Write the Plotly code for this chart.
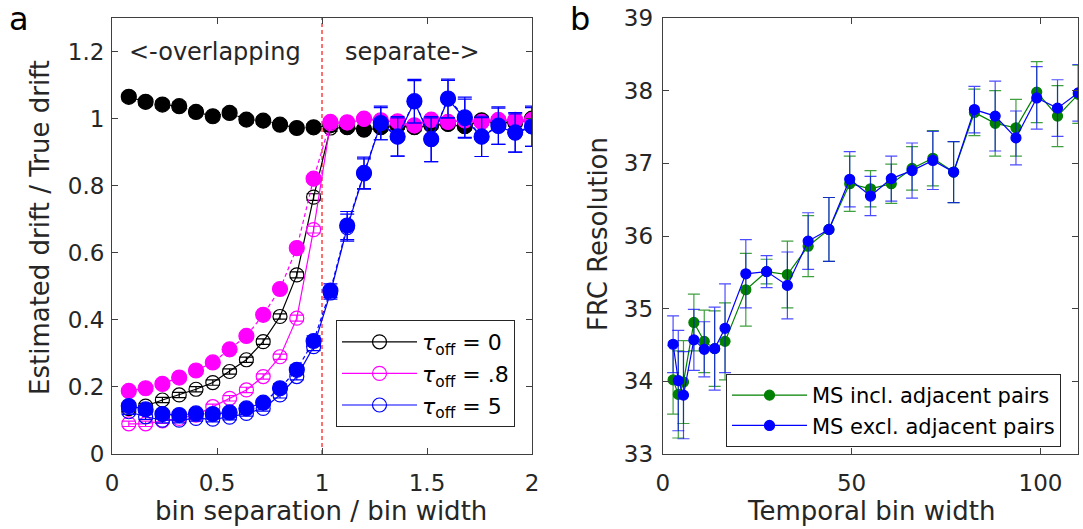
import plotly.graph_objects as go

# ---------------- panel a data ----------------
sep = [0.08, 0.16, 0.24, 0.32, 0.40, 0.48, 0.56, 0.64, 0.72, 0.80, 0.88, 0.96, 1.04,
       1.12, 1.20, 1.28, 1.36, 1.44, 1.52, 1.60, 1.68, 1.76, 1.84, 1.92, 2.00]

black_filled = [1.065, 1.050, 1.042, 1.037, 1.020, 1.007, 1.017, 0.997, 0.994, 0.982, 0.972, 0.974, 0.980,
                0.975, 0.968, 0.975, 0.980, 0.975, 0.982, 0.985, 0.978, 0.995, 0.990, 0.990, 1.000]
black_filled_err = [0.012, 0.011, 0.011, 0.012, 0.012, 0.011, 0.012, 0.011, 0.011, 0.011, 0.011, 0.011, 0.011,
                    0.011, 0.011, 0.012, 0.012, 0.012, 0.012, 0.012, 0.012, 0.012, 0.012, 0.012, 0.012]
black_open = [0.135, 0.143, 0.161, 0.176, 0.193, 0.213, 0.246, 0.281, 0.335, 0.410, 0.534, 0.766, 0.972,
              0.973, 0.966, 0.973, 0.978, 0.973, 0.980, 0.983, 0.976, 0.993, 0.988, 0.988, 0.998]
black_open_err = [0.008, 0.008, 0.008, 0.008, 0.008, 0.008, 0.008, 0.008, 0.008, 0.008, 0.009, 0.010, 0.010,
                  0.010, 0.010, 0.010, 0.010, 0.010, 0.010, 0.010, 0.010, 0.010, 0.010, 0.010, 0.010]

magenta_filled = [0.188, 0.196, 0.209, 0.228, 0.249, 0.273, 0.312, 0.352, 0.415, 0.492, 0.614, 0.821, 0.990,
                  0.989, 1.000, 0.995, 0.992, 0.980, 0.997, 0.990, 0.995, 0.990, 0.996, 0.996, 0.996]
magenta_filled_err = [0.008, 0.008, 0.008, 0.008, 0.008, 0.008, 0.008, 0.008, 0.008, 0.008, 0.009, 0.010, 0.010,
                      0.010, 0.010, 0.010, 0.010, 0.010, 0.010, 0.010, 0.010, 0.010, 0.010, 0.010, 0.010]
magenta_open = [0.090, 0.090, 0.099, 0.106, 0.116, 0.141, 0.166, 0.191, 0.231, 0.290, 0.405, 0.669, 0.985,
                0.987, 0.998, 0.993, 0.990, 0.978, 0.995, 0.990, 0.993, 0.990, 0.995, 0.995, 0.995]
magenta_open_err = [0.008, 0.008, 0.008, 0.008, 0.008, 0.008, 0.008, 0.008, 0.008, 0.008, 0.009, 0.010, 0.010,
                    0.010, 0.010, 0.010, 0.010, 0.010, 0.010, 0.010, 0.010, 0.010, 0.010, 0.010, 0.010]

blue_filled = [0.143, 0.133, 0.119, 0.116, 0.121, 0.119, 0.124, 0.136, 0.153, 0.196, 0.251, 0.337, 0.487,
               0.681, 0.838, 0.987, 0.947, 1.052, 0.939, 1.060, 1.004, 0.947, 0.979, 0.959, 0.977]
blue_filled_err = [0.010, 0.010, 0.010, 0.010, 0.010, 0.010, 0.010, 0.010, 0.011, 0.013, 0.014, 0.015, 0.020,
                   0.042, 0.047, 0.050, 0.059, 0.065, 0.067, 0.058, 0.060, 0.060, 0.056, 0.059, 0.060]
blue_open = [0.126, 0.111, 0.101, 0.101, 0.106, 0.104, 0.110, 0.121, 0.136, 0.176, 0.231, 0.320, 0.480,
             0.675, 0.835, 0.985, 0.945, 1.050, 0.937, 1.058, 1.000, 0.945, 0.977, 0.957, 0.975]
blue_open_err = [0.008, 0.008, 0.008, 0.008, 0.008, 0.008, 0.008, 0.008, 0.008, 0.009, 0.010, 0.012, 0.018,
                 0.040, 0.045, 0.048, 0.057, 0.063, 0.065, 0.056, 0.058, 0.058, 0.054, 0.057, 0.058]

boundary = 1.0
a_yticks = [0, 0.2, 0.4, 0.6, 0.8, 1.0, 1.2]
a_yticktext = ["0", "0.2", "0.4", "0.6", "0.8", "1", "1.2"]
a_xticks = [0, 0.5, 1, 1.5, 2]
a_xticktext = ["0", "0.5", "1", "1.5", "2"]

# ---------------- panel b data ----------------
bin_width = [2.75, 4.125, 5.5, 8.25, 11, 13.75, 16.5, 22, 27.5, 33, 38.5, 44, 49.5, 55,
             60.5, 66, 71.5, 77, 82.5, 88, 93.5, 99, 104.5, 110]
frc_incl = [34.02, 33.82, 33.99, 34.81, 34.55, 34.45, 34.55, 35.26, 35.51, 35.47, 35.86, 36.09, 36.72, 36.65,
            36.72, 36.93, 37.07, 36.88, 37.70, 37.55, 37.49, 37.98, 37.65, 37.95]
frc_incl_err = [0.47, 0.60, 0.57, 0.39, 0.43, 0.52, 0.53, 0.50, 0.17, 0.46, 0.42, 0.44, 0.38, 0.25,
                0.27, 0.30, 0.38, 0.42, 0.32, 0.45, 0.39, 0.42, 0.42, 0.40]
frc_excl = [34.51, 34.01, 33.81, 34.57, 34.44, 34.45, 34.73, 35.48, 35.51, 35.32, 35.93, 36.09, 36.78, 36.55,
            36.79, 36.90, 37.04, 36.88, 37.74, 37.65, 37.35, 37.90, 37.76, 37.97]
frc_excl_err = [0.39, 0.69, 0.60, 0.42, 0.38, 0.57, 0.61, 0.47, 0.22, 0.46, 0.39, 0.44, 0.38, 0.27,
                0.31, 0.38, 0.40, 0.42, 0.32, 0.48, 0.37, 0.43, 0.39, 0.39]
b_yticks = [33, 34, 35, 36, 37, 38, 39]
b_xticks = [0, 50, 100]

FONT = "DejaVu Sans"
TXT = "#262626"
AX = "#404040"

fig = go.Figure()


def series(x, y, err, color, filled, name, showlegend, xa, ya, legend, size, cap, ecolor=None, lw=1.2):
    fig.add_trace(go.Scatter(
        x=x, y=y, mode="lines+markers", name=name, showlegend=showlegend,
        xaxis=xa, yaxis=ya, legend=legend,
        line=dict(color=color, width=lw, dash=("4px,3px" if filled == "dash" else "solid")),
        marker=dict(symbol="circle" if filled else "circle-open", size=size, color=color,
                    line=dict(color=color, width=1.2)),
        error_y=dict(type="data", array=err, visible=True, color=ecolor or color,
                     thickness=1.2, width=cap),
    ))


# panel a: order so that blue filled sits on top
series(sep, black_open, black_open_err, "black", False, "<i>τ</i><sub>off</sub> = 0", True, "x", "y", "legend", 14, 7)
series(sep, black_filled, black_filled_err, "black", "dash", "τoff = 0 (filled)", False, "x", "y", "legend", 15, 7)
series(sep, magenta_open, magenta_open_err, "#ff00ff", False, "<i>τ</i><sub>off</sub> = .8", True, "x", "y", "legend", 14, 7)
series(sep, magenta_filled, magenta_filled_err, "#ff00ff", "dash", "τoff = .8 (filled)", False, "x", "y", "legend", 15, 7)
series(sep, blue_open, blue_open_err, "#0000ff", False, "<i>τ</i><sub>off</sub> = 5", True, "x", "y", "legend", 14, 7)
series(sep, blue_filled, blue_filled_err, "#0000ff", "dash", "τoff = 5 (filled)", False, "x", "y", "legend", 15, 7)

# panel b
series(bin_width, frc_incl, frc_incl_err, "#008000", True, "MS incl. adjacent pairs", True, "x2", "y2", "legend2",
       10, 6, ecolor="rgba(0,128,0,0.75)")
series(bin_width, frc_excl, frc_excl_err, "#0000ff", True, "MS excl. adjacent pairs", True, "x2", "y2", "legend2",
       10, 6, ecolor="rgba(0,0,255,0.7)")

W, H = 1083, 529
axcommon = dict(showline=True, linecolor=AX, linewidth=1, mirror="ticks", ticks="inside", ticklen=6,
                tickcolor=AX, showgrid=False, zeroline=False, automargin=False,
                tickfont=dict(family=FONT, size=23, color=TXT))

fig.update_layout(
    template="none",
    width=W, height=H, margin=dict(l=0, r=0, t=0, b=0, pad=0, autoexpand=False),
    paper_bgcolor="white", plot_bgcolor="white",
    font=dict(family=FONT, color=TXT),
    xaxis=dict(domain=[112 / W, 532 / W], range=[0, 2], anchor="y", ticklabelstandoff=8,
               tickvals=a_xticks, ticktext=a_xticktext, **axcommon),
    yaxis=dict(domain=[1 - 454 / H, 1 - 18 / H], range=[0, 1.3], anchor="x", ticklabelstandoff=2,
               tickvals=a_yticks, ticktext=a_yticktext, **axcommon),
    xaxis2=dict(domain=[662.7 / W, 1078.3 / W], range=[0, 110], anchor="y2", ticklabelstandoff=8,
                tickvals=b_xticks, **axcommon),
    yaxis2=dict(domain=[1 - 454 / H, 1 - 18 / H], range=[33, 39], anchor="x2", ticklabelstandoff=4,
                tickvals=b_yticks, **axcommon),
    legend=dict(x=336 / W, y=1 - 320 / H, xanchor="left", yanchor="top",
                bgcolor="white", bordercolor="#262626", borderwidth=1,
                font=dict(family=FONT, size=22, color="black"), itemwidth=75,
                tracegroupgap=0),
    legend2=dict(x=726 / W, y=1 - 374 / H, xanchor="left", yanchor="top",
                 bgcolor="white", bordercolor="#262626", borderwidth=1,
                 font=dict(family=FONT, size=21, color="black"), itemwidth=75,
                 tracegroupgap=0),
    showlegend=True,
)

fig.add_shape(type="line", xref="x", yref="y domain", x0=boundary, x1=boundary, y0=0, y1=1,
              line=dict(color="#ff4040", width=1.5, dash="4px,3px"), layer="below")

ann = [
    dict(text="&lt;-overlapping", x=0.07, y=1.2, xref="x", yref="y", xanchor="left", yanchor="middle",
         font=dict(size=24)),
    dict(text="separate-&gt;", x=1.1, y=1.2, xref="x", yref="y", xanchor="left", yanchor="middle",
         font=dict(size=24)),
    dict(text="bin separation / bin width", x=321 / W, y=1 - 511 / H, xref="paper", yref="paper",
         xanchor="center", yanchor="middle", font=dict(size=26)),
    dict(text="Temporal bin width", x=871 / W, y=1 - 511 / H, xref="paper", yref="paper",
         xanchor="center", yanchor="middle", font=dict(size=26)),
    dict(text="Estimated drift / True drift", x=40 / W, y=1 - 228 / H, xref="paper", yref="paper",
         xanchor="center", yanchor="middle", textangle=-90, font=dict(size=26)),
    dict(text="FRC Resolution", x=598 / W, y=1 - 234 / H, xref="paper", yref="paper",
         xanchor="center", yanchor="middle", textangle=-90, font=dict(size=26)),
    dict(text="a", x=19 / W, y=1 - 19 / H, xref="paper", yref="paper",
         xanchor="center", yanchor="middle", font=dict(size=32, color="black")),
    dict(text="b", x=580 / W, y=1 - 19 / H, xref="paper", yref="paper",
         xanchor="center", yanchor="middle", font=dict(size=32, color="black")),
]
for a in ann:
    a.setdefault("showarrow", False)
    a["font"].setdefault("family", FONT)
    a["font"].setdefault("color", TXT)
    fig.add_annotation(**a)

fig.write_html(
    "out.html",
    config={"displayModeBar": False},
    post_script="document.body.style.margin='0';document.body.style.padding='0';"
                "document.documentElement.style.overflow='hidden';",
)
